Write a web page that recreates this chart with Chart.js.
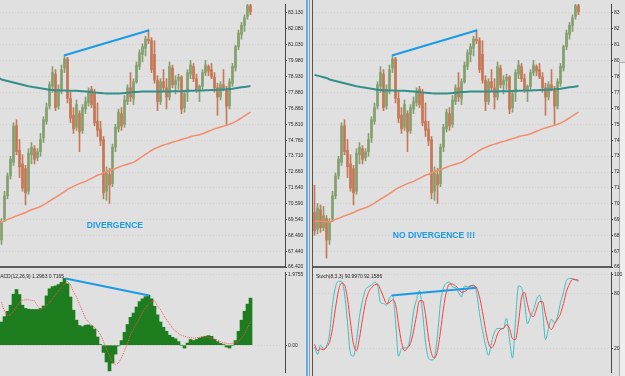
<!DOCTYPE html>
<html>
<head>
<meta charset="utf-8">
<script src="https://cdn.jsdelivr.net/npm/chart.js@4.4.0/dist/chart.umd.min.js"></script>
<style>
  html, body { margin: 0; padding: 0; }
  body { width: 625px; height: 376px; background: #e0e0e0; position: relative; overflow: hidden; }
  canvas { position: absolute; }
  #preco-esquerda { left: 0; top: 0; }
  #macd { left: 0; top: 268px; }
  #preco-direita { left: 313px; top: 0; }
  #estocastico { left: 313px; top: 268px; }
  .linha { position: absolute; top: 0; height: 376px; }
  #barra-rolagem { position: absolute; left: 619px; top: 62px; width: 6px; height: 314px; background: #eeeeee; border-left: 1px solid #a8a8a8; border-top: 1px solid #a8a8a8; }
</style>
</head>
<body>
<div class="linha" style="left:306px;width:2px;background:#62b0ea"></div>
<div class="linha" style="left:309px;width:1px;background:#9a9a9a"></div>
<div class="linha" style="left:312px;width:1px;background:#555"></div>
<div id="barra-rolagem"></div>
<canvas id="preco-esquerda" width="310" height="275"></canvas>
<canvas id="macd" width="310" height="108"></canvas>
<canvas id="preco-direita" width="312" height="275"></canvas>
<canvas id="estocastico" width="312" height="108"></canvas>
<script>
// Dados das velas (uma por barra, a janela da direita mostra 5 barras a mais no início)
const abertura = [70.0, 68.9, 70.2, 69.0, 69.6, 68.2, 69.6, 71.1, 72.4, 73.3,
  75.7, 74.1, 73.2, 72.9, 71.4, 73.8, 74.2, 73.6, 74.0, 74.9,
  76.0, 77.0, 78.3, 79.1, 77.0, 78.0, 79.5, 80.1, 77.5, 76.4,
  75.6, 76.5, 75.4, 76.8, 77.2, 78.1, 77.9, 76.0, 75.5, 74.8,
  71.4, 72.5, 71.9, 74.3, 75.5, 76.5, 75.8, 77.3, 78.2, 77.5,
  78.6, 79.6, 80.4, 80.8, 81.4, 81.3, 80.4, 78.7, 77.3, 78.6,
  78.2, 77.6, 79.5, 78.4, 78.7, 78.9, 76.9, 77.9, 79.1, 79.6,
  78.8, 78.1, 78.3, 79.2, 79.6, 79.4, 78.9, 78.2, 77.6, 78.4,
  78.1, 77.0, 78.5, 79.5, 80.9, 81.7, 82.3, 82.9, 83.6];
const maxima = [71.8, 70.6, 70.5, 70.4, 69.8, 69.6, 71.4, 72.6, 73.7, 75.9,
  76.1, 74.8, 73.8, 73.1, 74.2, 74.6, 74.4, 74.2, 75.2, 76.3,
  77.2, 78.6, 79.6, 79.4, 78.4, 79.7, 80.3, 80.2, 77.9, 76.9,
  77.4, 76.7, 77.1, 77.6, 78.2, 78.3, 78.1, 77.2, 76.0, 75.0,
  73.0, 72.9, 74.5, 75.8, 76.8, 76.9, 77.7, 78.4, 79.2, 78.8,
  79.9, 80.7, 81.1, 81.6, 82.0, 81.5, 81.3, 79.0, 78.8, 79.4,
  78.8, 79.9, 79.7, 79.0, 79.1, 79.0, 78.0, 79.4, 80.0, 79.8,
  79.1, 78.4, 79.4, 80.0, 79.7, 79.8, 79.2, 78.5, 78.6, 79.4,
  78.3, 78.8, 79.8, 81.0, 82.0, 82.5, 83.0, 83.8, 83.8];
const minima = [68.5, 68.6, 68.7, 68.8, 67.0, 67.9, 69.4, 70.9, 72.2, 73.1,
  73.8, 72.3, 71.4, 70.5, 71.2, 73.2, 73.2, 73.4, 73.7, 74.6,
  75.8, 76.8, 77.9, 76.7, 76.8, 77.8, 79.2, 77.2, 75.9, 75.2,
  75.4, 74.0, 75.2, 76.5, 77.0, 76.9, 75.7, 75.0, 74.4, 70.9,
  70.8, 70.6, 71.7, 74.0, 75.3, 75.4, 75.6, 77.1, 77.3, 77.1,
  78.5, 79.4, 79.9, 80.3, 81.1, 79.2, 78.5, 76.7, 77.1, 78.0,
  76.8, 77.4, 78.2, 77.8, 78.1, 76.5, 76.6, 77.3, 78.8, 78.6,
  77.9, 77.3, 78.1, 79.0, 79.0, 78.8, 77.9, 76.4, 77.4, 78.0,
  75.8, 76.8, 78.3, 79.3, 80.7, 81.4, 81.9, 82.7, 83.0];
const fechamento = [68.8, 70.3, 69.0, 69.8, 68.2, 69.4, 71.1, 72.4, 73.5, 75.7,
  74.0, 73.0, 71.6, 71.3, 73.9, 74.3, 73.5, 74.0, 74.8, 76.1,
  76.9, 78.4, 79.2, 76.9, 78.1, 79.4, 80.1, 77.5, 76.2, 75.5,
  77.1, 75.3, 76.9, 77.3, 78.0, 77.1, 75.9, 75.4, 74.7, 71.3,
  72.6, 71.8, 74.3, 75.6, 76.6, 75.7, 77.4, 78.2, 77.6, 78.6,
  79.7, 80.5, 80.9, 81.4, 81.3, 79.4, 78.7, 77.3, 78.6, 78.2,
  77.6, 79.6, 78.4, 78.7, 78.9, 76.8, 77.8, 79.2, 79.7, 78.8,
  78.1, 78.3, 79.2, 79.7, 79.3, 78.9, 78.2, 77.6, 78.4, 78.1,
  77.0, 78.6, 79.6, 80.9, 81.8, 82.3, 82.8, 83.6, 83.2];

// Médias móveis
const mediaAzul = [79.05, 79.0, 78.95, 78.9, 78.85, 78.75, 78.7, 78.65, 78.6, 78.55,
  78.5, 78.45, 78.4, 78.35, 78.3, 78.27, 78.23, 78.2, 78.17, 78.14,
  78.11, 78.08, 78.06, 78.04, 78.03, 78.02, 78.02, 78.01, 78.01, 78.0,
  78.0, 77.99, 77.98, 77.96, 77.94, 77.92, 77.9, 77.88, 77.86, 77.84,
  77.83, 77.82, 77.82, 77.82, 77.83, 77.84, 77.86, 77.88, 77.9, 77.92,
  77.93, 77.94, 77.95, 77.95, 77.95, 77.95, 77.95, 77.95, 77.96, 77.96,
  77.96, 77.96, 77.97, 77.97, 77.98, 77.98, 77.99, 78.0, 78.0, 78.01,
  78.02, 78.02, 78.03, 78.04, 78.04, 78.05, 78.06, 78.07, 78.08, 78.09,
  78.1, 78.12, 78.14, 78.17, 78.2, 78.23, 78.26, 78.29, 78.32];
const mediaLaranja = [69.42, 69.42, 69.42, 69.41, 69.40, 69.38, 69.45, 69.55, 69.62, 69.7,
  69.78, 69.85, 69.92, 70.0, 70.1, 70.18, 70.25, 70.32, 70.4, 70.5,
  70.62, 70.75, 70.88, 71.0, 71.12, 71.25, 71.38, 71.52, 71.62, 71.72,
  71.82, 71.9, 71.98, 72.05, 72.15, 72.25, 72.35, 72.45, 72.52, 72.6,
  72.68, 72.75, 72.82, 72.9, 72.98, 73.05, 73.12, 73.18, 73.24, 73.3,
  73.42, 73.56, 73.7, 73.83, 73.95, 74.08, 74.2, 74.28, 74.36, 74.44,
  74.5, 74.56, 74.62, 74.68, 74.74, 74.8, 74.86, 74.92, 74.98, 75.04,
  75.08, 75.12, 75.18, 75.26, 75.34, 75.42, 75.5, 75.56, 75.62, 75.68,
  75.74, 75.8, 75.88, 75.98, 76.1, 76.22, 76.35, 76.48, 76.6];

// MACD (só aparece na janela da esquerda)
const macdHistograma = [null, null, null, null, null, 0.65, 0.8, 0.95, 1.12, 1.43,
  1.56, 1.42, 1.12, 1.03, 1.01, 1.0, 1.0, 1.0, 1.03, 1.1,
  1.38, 1.58, 1.64, 1.66, 1.7, 1.76, 1.87, 1.72, 1.35, 0.98,
  0.7, 0.55, 0.52, 0.56, 0.57, 0.54, 0.45, 0.23, 0.02, -0.2,
  -0.47, -0.72, -0.5, -0.25, -0.02, 0.13, 0.36, 0.58, 0.78, 0.9,
  1.07, 1.22, 1.3, 1.36, 1.4, 1.3, 1.09, 0.85, 0.65, 0.5,
  0.39, 0.28, 0.22, 0.18, 0.1, 0.0, -0.08, 0.06, 0.16, 0.13,
  0.16, 0.2, 0.23, 0.25, 0.27, 0.25, 0.16, 0.1, 0.05, 0.02,
  -0.05, -0.08, 0.0, 0.13, 0.39, 0.7, 0.95, 1.15, 1.32];
const macdSinal = [null, null, null, null, null, 1.2, 0.95, 0.83, 0.85, 0.95,
  1.08, 1.2, 1.26, 1.27, 1.27, 1.26, 1.24, 1.1, 1.0, 1.05,
  1.12, 1.18, 1.3, 1.42, 1.52, 1.62, 1.72, 1.78, 1.7, 1.5,
  1.35, 1.15, 0.95, 0.75, 0.65, 0.57, 0.5, 0.42, 0.3, 0.1,
  -0.1, -0.29, -0.48, -0.55, -0.5, -0.35, -0.15, 0.05, 0.3, 0.45,
  0.6, 0.75, 0.92, 1.05, 1.15, 1.22, 1.26, 1.1, 1.0, 0.85,
  0.72, 0.6, 0.48, 0.4, 0.33, 0.28, 0.25, 0.22, 0.21, 0.2,
  0.21, 0.22, 0.23, 0.24, 0.22, 0.2, 0.18, 0.14, 0.1, 0.07,
  0.05, 0.04, 0.05, 0.08, 0.1, 0.2, 0.31, 0.5, 0.66];

// Estocástico (janela da direita)
const estocasticoPrincipal = [22, 14, 24, 20, 23, 36, 68, 87, 93, 93,
  80, 48, 15, 12, 29, 55, 72, 84, 87, 89,
  92, 89, 70, 69, 67, 75, 78, 50, 12, 20,
  21, 22, 35, 60, 73, 83, 60, 27, 10, 8,
  11, 35, 70, 86, 91, 92, 87, 86, 81, 76,
  88, 87, 88, 89, 81, 58, 40, 24, 13, 27,
  38, 42, 42, 42, 53, 30, 10, 50, 88, 86,
  70, 47, 55, 62, 73, 78, 62, 30, 42, 52,
  48, 55, 70, 81, 94, 96, 96, 94, 93];
const estocasticoSinal = [25, 18, 20, 19, 22, 27, 42, 64, 83, 91,
  89, 74, 48, 25, 18, 32, 52, 70, 81, 86,
  89, 90, 84, 76, 69, 70, 73, 68, 47, 27,
  18, 21, 26, 39, 56, 72, 72, 57, 32, 15,
  10, 18, 39, 64, 82, 90, 90, 88, 85, 81,
  82, 84, 88, 88, 86, 76, 60, 41, 26, 21,
  26, 36, 41, 42, 46, 42, 31, 30, 49, 75,
  81, 68, 57, 55, 63, 71, 71, 57, 45, 41,
  47, 52, 58, 69, 82, 90, 95, 95, 94];

// Linhas de divergência [barra, valor]
const tendenciaPreco = [[25.8, 80.32], [54.2, 81.98]];
const tendenciaMacd = [[26.4, 1.87], [54.2, 1.39]];
const tendenciaEstocastico = [[25.7, 77.7], [54.0, 86.0]];

// Rótulos dos eixos
const ticksPreco = [66.42, 67.44, 68.49, 69.54, 70.59, 71.64, 72.66, 73.71, 74.76,
  75.81, 76.86, 77.88, 78.93, 79.98, 81.03, 82.08, 83.13];
const rotulosPrecoDireita = ['66', '67', '68', '69', '70', '71', '72', '73', '74',
  '75', '76', '77', '78', '80', '81', '82', '83'];
const ticksMacd = [0, 1.9755];
const ticksEstocastico = [20, 80, 100];

// Cores
const corAlta = '#85a06f';
const corBaixa = '#c57856';
const corAzulTexto = '#1b9ae6';
const fonteEixo = { family: 'Liberation Sans', size: 5 };

const coresVelas = fechamento.map((c, i) => c >= abertura[i] ? corAlta : corBaixa);
const pontos = (array) => array.map((v, i) => ({ x: i, y: v }));
const pontosTendencia = (array) => array.map(p => ({ x: p[0], y: p[1] }));

// Textos desenhados por cima dos dados
const pluginTextos = (textos) => ({
  id: 'textos',
  afterDatasetsDraw(chart) {
    const ctx = chart.ctx;
    const area = chart.chartArea;
    textos.forEach(t => {
      ctx.save();
      ctx.font = t.fonte;
      ctx.fillStyle = t.cor;
      ctx.textAlign = t.alinhar || 'left';
      ctx.textBaseline = 'middle';
      const px = t.topo ? area.left + t.x : chart.scales.x.getPixelForValue(t.x);
      const py = t.topo ? area.top + t.y : chart.scales.y.getPixelForValue(t.y);
      ctx.fillText(t.texto, px, py);
      ctx.restore();
    });
  }
});

// Eixo x comum (sem rótulos, só a borda inferior)
const eixoX = (min, max, borda) => ({
  type: 'linear', min, max, offset: false,
  ticks: { display: false },
  grid: { display: false },
  border: { display: borda, color: '#5c5c5c', width: 2 },
  afterFit: (s) => { s.height = 0; }
});

// Eixo y à direita com ticks escolhidos
const eixoY = (min, max, ticks, largura, formato) => ({
  position: 'right', min, max,
  afterBuildTicks: (s) => { s.ticks = ticks.map(v => ({ value: v })); },
  afterFit: (s) => { s.width = largura; },
  ticks: { font: fonteEixo, color: '#2a2a2a', padding: 1, callback: formato },
  grid: { color: '#d0d0d0', tickColor: '#333', tickLength: 2 },
  border: { display: true, color: '#474747', width: 1, dash: [1, 2] }
});

const opcoesBase = {
  responsive: false,
  animation: false,
  devicePixelRatio: 1,
  layout: { autoPadding: false, padding: 0 },
  plugins: { legend: { display: false }, tooltip: { enabled: false } }
};

// Gráfico de preços
const criarPreco = (canvasId, xMin, xMax, largura, formato, texto) => {
  new Chart(document.getElementById(canvasId), {
    type: 'bar',
    data: {
      datasets: [
        { type: 'line', order: 0, data: pontosTendencia(tendenciaPreco), borderColor: '#1b9ae6', borderWidth: 2, pointRadius: 0 },
        { type: 'line', order: 1, data: pontos(mediaAzul), borderColor: '#348f8a', borderWidth: 2, pointRadius: 0 },
        { type: 'line', order: 2, data: pontos(mediaLaranja), borderColor: '#f38c6c', borderWidth: 1.5, pointRadius: 0 },
        { order: 3, data: fechamento.map((c, i) => ({ x: i, y: [abertura[i], c] })), backgroundColor: coresVelas, barThickness: 2, grouped: false, borderWidth: 0 },
        { order: 4, data: maxima.map((h, i) => ({ x: i, y: [minima[i], h] })), backgroundColor: coresVelas, barThickness: 1, grouped: false, borderWidth: 0 }
      ]
    },
    options: {
      ...opcoesBase,
      layout: { autoPadding: false, padding: { top: 0, left: 0, right: 0, bottom: 8 } },
      scales: {
        x: eixoX(xMin, xMax, true),
        y: eixoY(66.42, 83.71, ticksPreco, largura, formato)
      }
    },
    plugins: [pluginTextos([texto])]
  });
};

criarPreco('preco-esquerda', 4.5, 99.5, 25, (v) => v.toFixed(3),
  { texto: 'DIVERGENCE', x: 42.8, y: 69.14, alinhar: 'center', fonte: 'bold 8.5px "Liberation Sans"', cor: corAzulTexto });
criarPreco('preco-direita', -0.5, 98.83, 14, (v, i) => rotulosPrecoDireita[i],
  { texto: 'NO DIVERGENCE !!!', x: 39.8, y: 68.5, alinhar: 'center', fonte: 'bold 8.5px "Liberation Sans"', cor: corAzulTexto });

// MACD
new Chart(document.getElementById('macd'), {
  type: 'bar',
  data: {
    datasets: [
      { type: 'line', order: 0, data: pontosTendencia(tendenciaMacd), borderColor: '#1b9ae6', borderWidth: 2, pointRadius: 0 },
      { type: 'line', order: 1, data: pontos(macdSinal), borderColor: '#ff4d4d', borderWidth: 1, borderDash: [1, 1], pointRadius: 0 },
      { order: 2, data: pontos(macdHistograma), backgroundColor: '#1e7d1e', barThickness: 3, grouped: false, borderWidth: 0 }
    ]
  },
  options: {
    ...opcoesBase,
    scales: {
      x: eixoX(4.5, 99.5, false),
      y: eixoY(-0.75, 2.05, ticksMacd, 25, (v) => v === 0 ? '0.00' : v.toFixed(4))
    }
  },
  plugins: [pluginTextos([{ texto: 'MACD(12,26,9) 1.2963 0.7165', topo: true, x: -4, y: 5, fonte: '5px "Liberation Sans"', cor: '#222' }])]
});

// Estocástico
new Chart(document.getElementById('estocastico'), {
  type: 'line',
  data: {
    datasets: [
      { order: 0, data: pontosTendencia(tendenciaEstocastico), borderColor: '#1b9ae6', borderWidth: 2, pointRadius: 0 },
      { order: 1, data: pontos(estocasticoSinal), borderColor: '#ff3b3b', borderWidth: 1, pointRadius: 0, cubicInterpolationMode: 'monotone' },
      { order: 2, data: pontos(estocasticoPrincipal), borderColor: '#3dbfbf', borderWidth: 1, pointRadius: 0, cubicInterpolationMode: 'monotone' }
    ]
  },
  options: {
    ...opcoesBase,
    scales: {
      x: eixoX(-0.5, 98.83, false),
      y: eixoY(-5, 103, ticksEstocastico, 14, (v) => String(v))
    }
  },
  plugins: [pluginTextos([{ texto: 'Stoch(8,3,3) 90.9970 92.1586', topo: true, x: 3, y: 5, fonte: '5px "Liberation Sans"', cor: '#222' }])]
});
</script>
</body>
</html>
